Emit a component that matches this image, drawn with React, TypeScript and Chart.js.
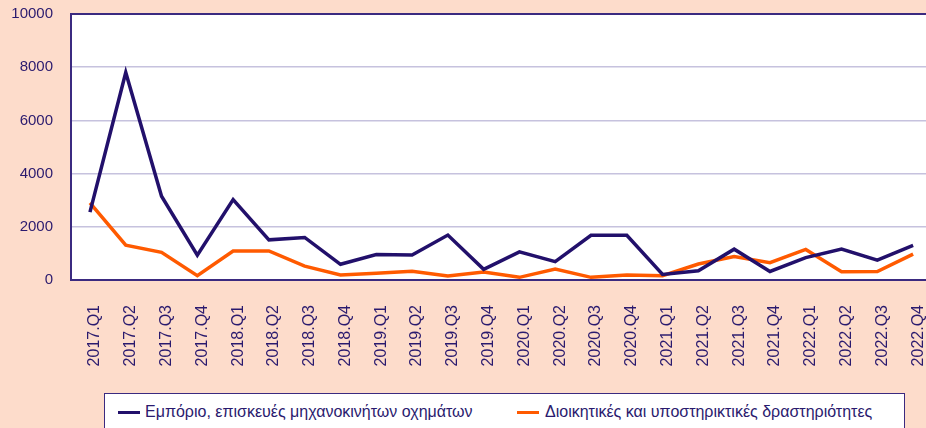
import React, { useEffect, useRef } from "react";
import { Chart, registerables } from "chart.js";

Chart.register(...registerables);

const categories: string[] = [
  "2017.Q1", "2017.Q2", "2017.Q3", "2017.Q4",
  "2018.Q1", "2018.Q2", "2018.Q3", "2018.Q4",
  "2019.Q1", "2019.Q2", "2019.Q3", "2019.Q4",
  "2020.Q1", "2020.Q2", "2020.Q3", "2020.Q4",
  "2021.Q1", "2021.Q2", "2021.Q3", "2021.Q4",
  "2022.Q1", "2022.Q2", "2022.Q3", "2022.Q4",
];

const tradeLabel = "Εμπόριο, επισκευές μηχανοκινήτων οχημάτων";
const tradeValues: number[] = [
  2550, 7800, 3150, 930,
  3020, 1510, 1600, 590,
  960, 940, 1690, 400,
  1060, 690, 1680, 1680,
  210, 350, 1160, 320,
  840, 1160, 750, 1300,
];

const adminLabel = "Διοικητικές και υποστηρικτικές δραστηριότητες";
const adminValues: number[] = [
  2900, 1310, 1040, 160,
  1090, 1090, 520, 190,
  250, 330, 150, 300,
  100, 410, 100, 190,
  160, 600, 880, 650,
  1150, 310, 320, 970,
];

const yTicks: number[] = [0, 2000, 4000, 6000, 8000, 10000];

const BG = "#fddccb";
const NAVY = "#22106b";
const ORANGE = "#ff5a00";
const AXIS = "#3b2a80";
const GRID = "#c6c2de";
const TEXT = "#2a1a6e";
const FONT = "'Liberation Sans', Arial, Helvetica, sans-serif";

const plotBg = {
  id: "plotBg",
  beforeDraw(chart: any) {
    const { ctx, chartArea } = chart;
    ctx.save();
    ctx.fillStyle = "#ffffff";
    ctx.fillRect(chartArea.left, chartArea.top, chartArea.right - chartArea.left, chartArea.bottom - chartArea.top);
    ctx.restore();
  },
};

export default function App() {
  const ref = useRef<HTMLCanvasElement | null>(null);

  useEffect(() => {
    if (!ref.current) return;
    const chart = new Chart(ref.current, {
      type: "line",
      data: {
        datasets: [
          {
            label: tradeLabel,
            data: tradeValues.map((v, i) => ({ x: i, y: v })),
            borderColor: NAVY,
            backgroundColor: NAVY,
            borderWidth: 3.5,
            pointRadius: 0,
            tension: 0,
          },
          {
            label: adminLabel,
            data: adminValues.map((v, i) => ({ x: i, y: v })),
            borderColor: ORANGE,
            backgroundColor: ORANGE,
            borderWidth: 3.5,
            pointRadius: 0,
            tension: 0,
          },
        ],
      },
      options: {
        responsive: false,
        animation: false,
        layout: { padding: { top: 14, left: 0, right: 0, bottom: 0 } },
        plugins: {
          legend: { display: false },
          tooltip: { enabled: false },
        },
        scales: {
          x: {
            type: "linear",
            min: -0.53,
            max: 23.36,
            afterFit: (scale: any) => {
              scale.height = 148;
              scale.paddingLeft = 0;
              scale.paddingRight = 0;
              scale.paddingTop = 0;
              scale.paddingBottom = 0;
            },
            grid: { display: false },
            border: { display: true, color: AXIS, width: 2 },
            ticks: {
              stepSize: 1,
              autoSkip: false,
              includeBounds: false,
              maxRotation: 90,
              minRotation: 90,
              padding: 17,
              labelOffset: 5,
              color: TEXT,
              font: { family: FONT, size: 16 },
              callback: (v: any) => {
                const n = Number(v);
                return Number.isInteger(n) && categories[n] ? categories[n] : null;
              },
            },
          },
          y: {
            min: 0,
            max: 10000,
            afterFit: (scale: any) => {
              scale.width = 71;
              scale.paddingLeft = 0;
              scale.paddingRight = 0;
              scale.paddingTop = 0;
              scale.paddingBottom = 0;
            },
            afterBuildTicks: (scale: any) => {
              scale.ticks = yTicks.map((v) => ({ value: v }));
            },
            grid: {
              drawTicks: false,
              color: (c: any) => (c.tick && c.tick.value === 10000 ? AXIS : GRID),
              lineWidth: (c: any) => (c.tick && c.tick.value === 10000 ? 2 : 1.5),
            },
            border: { display: true, color: AXIS, width: 2 },
            ticks: {
              padding: 18,
              color: TEXT,
              font: { family: FONT, size: 15 },
              callback: (v: any) => String(v),
            },
          },
        },
      },
      plugins: [plotBg],
    });
    return () => chart.destroy();
  }, []);

  return (
    <div
      style={{
        position: "fixed",
        left: 0,
        top: 0,
        width: 926,
        height: 428,
        background: BG,
        overflow: "hidden",
        fontFamily: FONT,
      }}
    >
      <canvas
        ref={ref}
        width={926}
        height={428}
        style={{ position: "absolute", left: 0, top: 0, width: 926, height: 428 }}
      />
      <div
        style={{
          position: "absolute",
          left: 104,
          top: 393,
          width: 801,
          height: 60,
          boxSizing: "border-box",
          border: `1.5px solid ${AXIS}`,
          background: "#ffffff",
        }}
      >
        <div style={{ position: "absolute", left: 13, top: 17, width: 22, height: 3, background: NAVY }} />
        <div
          style={{
            position: "absolute",
            left: 40,
            top: 8,
            fontSize: 16,
            lineHeight: "19px",
            color: TEXT,
            whiteSpace: "nowrap",
          }}
        >
          {tradeLabel}
        </div>
        <div style={{ position: "absolute", left: 412, top: 17, width: 22, height: 3, background: ORANGE }} />
        <div
          style={{
            position: "absolute",
            left: 440,
            top: 8,
            fontSize: 16,
            lineHeight: "19px",
            color: TEXT,
            whiteSpace: "nowrap",
          }}
        >
          {adminLabel}
        </div>
      </div>
    </div>
  );
}
